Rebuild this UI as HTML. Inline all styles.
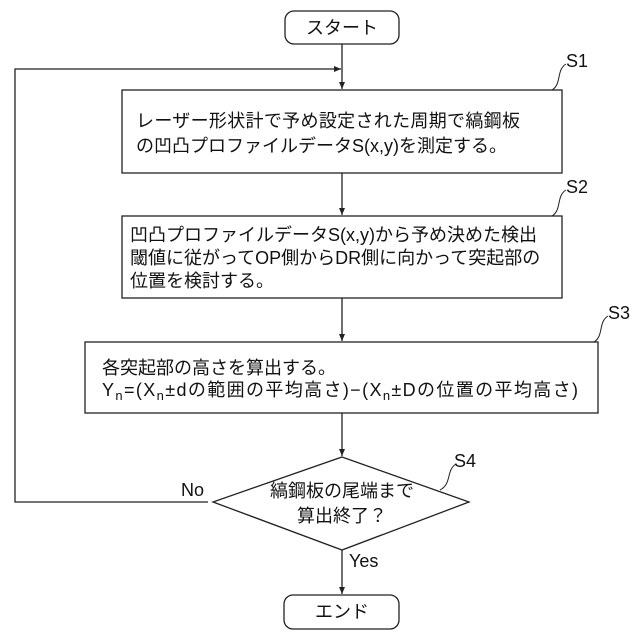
<!DOCTYPE html>
<html><head><meta charset="utf-8"><style>
html,body{margin:0;padding:0;background:#fff}
svg{display:block}
text{font-family:"Liberation Sans","Noto Sans CJK JP",sans-serif;font-size:18px;fill:#111}
</style></head><body>
<svg width="640" height="640" viewBox="0 0 640 640" xmlns="http://www.w3.org/2000/svg">
<defs><marker id="a" markerWidth="8" markerHeight="8" refX="7" refY="4" orient="auto" markerUnits="userSpaceOnUse"><path d="M0,1 L7,4 L0,7 z" fill="#222"/></marker></defs>
<g stroke="#222" stroke-width="1.3" fill="none">
<rect x="285" y="11" width="114" height="33" rx="9"/>
<line x1="342" y1="44" x2="342" y2="89" marker-end="url(#a)"/>
<polyline points="208,502 15,502 15,69 341,69" marker-end="url(#a)"/>
<rect x="122" y="90" width="440" height="83"/>
<line x1="342" y1="173" x2="342" y2="215" marker-end="url(#a)"/>
<rect x="122" y="216" width="440" height="82"/>
<line x1="342" y1="298" x2="342" y2="341" marker-end="url(#a)"/>
<rect x="85" y="342" width="513" height="71"/>
<line x1="342" y1="413" x2="342" y2="456" marker-end="url(#a)"/>
<polygon points="342,457 469,502 342,550 213,502"/>
<line x1="342" y1="550" x2="342" y2="594" marker-end="url(#a)"/>
<rect x="284" y="595" width="115" height="34" rx="9"/>
<path d="M552,90 C562,84 556,70 566,64" stroke-width="1"/>
<path d="M552,216 C562,210 556,196 566,190" stroke-width="1"/>
<path d="M594,342 C604,336 598,322 608,316" stroke-width="1"/>
<path d="M440,490 C452,484 446,470 456,464" stroke-width="1"/>
</g>
<text x="342" y="34" text-anchor="middle">スタート</text>
<text x="566" y="67" font-size="17">S1</text>
<text x="566" y="193" font-size="17">S2</text>
<text x="608" y="319" font-size="17">S3</text>
<text x="454" y="467" font-size="17">S4</text>
<text x="136" y="127" textLength="384">レーザー形状計で予め設定された周期で縞鋼板</text>
<text x="136" y="152">の凹凸プロファイルデータS(x,y)を測定する。</text>
<text x="130" y="241">凹凸プロファイルデータS(x,y)から予め決めた検出</text>
<text x="130" y="264">閾値に従がってOP側からDR側に向かって突起部の</text>
<text x="130" y="287">位置を検討する。</text>
<text x="102" y="374">各突起部の高さを算出する。</text>
<text x="102" y="396" textLength="476">Y<tspan font-size="13" dy="4">n</tspan><tspan dy="-4">=(X</tspan><tspan font-size="13" dy="4">n</tspan><tspan dy="-4">±dの範囲の平均高さ)−(X</tspan><tspan font-size="13" dy="4">n</tspan><tspan dy="-4">±Dの位置の平均高さ)</tspan></text>
<text x="342" y="497" text-anchor="middle">縞鋼板の尾端まで</text>
<text x="342" y="522" text-anchor="middle">算出終了？</text>
<text x="181" y="496" font-size="17">No</text>
<text x="349" y="567" font-size="17">Yes</text>
<text x="342" y="618" text-anchor="middle">エンド</text>
</svg>
</body></html>
